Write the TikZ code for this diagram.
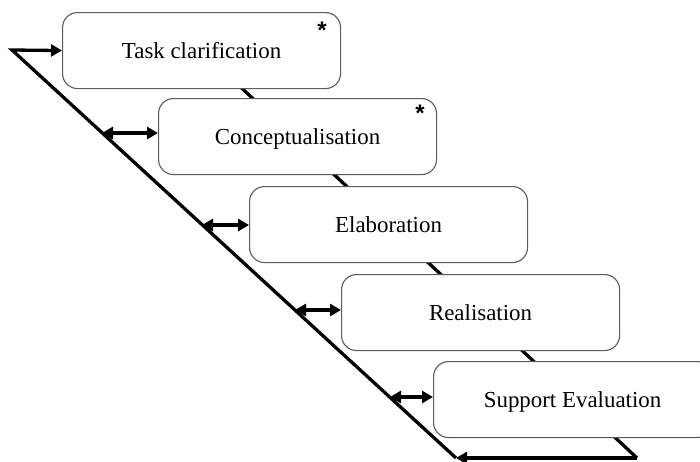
\documentclass[tikz,border=0pt]{standalone}
\usepackage{fontspec}
\setmainfont{Liberation Serif}
\newfontfamily\markfont{Liberation Sans}
\usetikzlibrary{arrows.meta,backgrounds}
\definecolor{boxgray}{HTML}{5C5C5C}
\begin{document}
\begin{tikzpicture}[x=1pt,y=-1pt,
  stage/.style={draw=boxgray, line width=1.1pt, rounded corners=15pt, fill=white,
    minimum width=278pt, minimum height=76pt, inner sep=0pt, anchor=north west,
    font=\fontsize{22.9}{27}\selectfont, text height=15pt, text depth=0pt},
  starmark/.style={inner sep=0pt, font=\markfont\bfseries\fontsize{24}{28}\selectfont},
  flow/.style={line width=3.3pt, black, line join=miter},
  head/.style={-{Triangle[length=11pt,width=12pt]}},
  twohead/.style={{Triangle[length=11pt,width=12pt]}-{Triangle[length=11pt,width=12pt]}}
]
\useasboundingbox (0,0) rectangle (700,461);
\clip (0,0) rectangle (700,461);

% the five stages, stepping down to the right
\node[stage] (b1) at (62,12)   {Task clarification};
\node[stage] (b2) at (158,98)  {Conceptualisation};
\node[stage] (b3) at (249,186) {Elaboration};
\node[stage] (b4) at (341,274) {Realisation};
\node[stage] (b5) at (433,361) {Support Evaluation};

\node[starmark] (s1) at ([xshift=-19pt,yshift=-18pt]b1.north east) {*};
\node[starmark] (s2) at ([xshift=-17pt,yshift=-15pt]b2.north east) {*};

% corners of the feedback loop
\coordinate (start) at (12,50);
\coordinate (bl) at (456,458);
\coordinate (br) at (637,458);

% points on the long diagonal level with each stage
\coordinate (a2) at (102,133);
\coordinate (a3) at (202,225);
\coordinate (a4) at (295,310);
\coordinate (a5) at (390,397);

% line running behind the stages down to the bottom corner
\begin{pgfonlayer}{background}
  \fill[white] (0,0) rectangle (700,461);
  \draw[flow] (b1.center) -- (br);
\end{pgfonlayer}

\draw[flow, head] (br) -- (bl);
\draw[flow, head] (bl) -- (start) -- (b1.west);

\draw[flow, twohead] (a2) -- (a2 -| b2.west);
\draw[flow, twohead] (a3) -- (a3 -| b3.west);
\draw[flow, twohead] (a4) -- (a4 -| b4.west);
\draw[flow, twohead] (a5) -- (a5 -| b5.west);
\end{tikzpicture}
\end{document}
